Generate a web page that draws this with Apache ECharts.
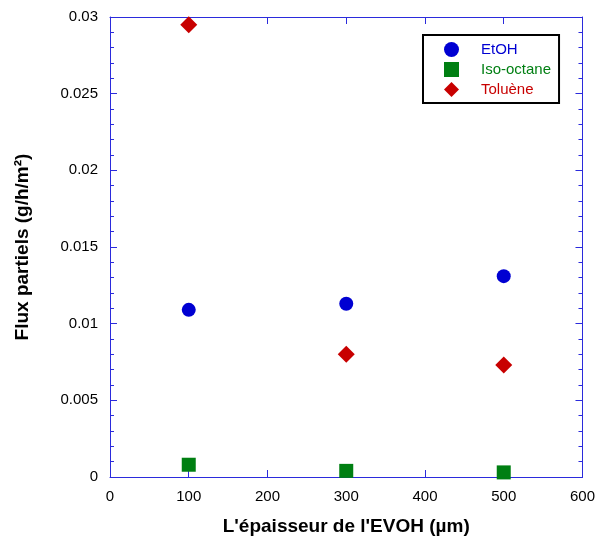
<!DOCTYPE html>
<html><head><meta charset="utf-8">
<script src="https://cdn.jsdelivr.net/npm/echarts@6/dist/echarts.min.js"></script>
<style>html,body{margin:0;padding:0;background:#fff}#c{width:598px;height:542px}</style>
</head><body><div id="c"></div>
<script>
var thickness = [100, 300, 500];
var etoh = [0.0109, 0.0113, 0.0131];
var isoOctane = [0.0008, 0.0004, 0.0003];
var toluene = [0.0295, 0.0080, 0.0073];
var seriesNames = ['EtOH', 'Iso-octane', 'Toluène'];
var xTitle = "L'épaisseur de l'EVOH (µm)";
var yTitle = 'Flux partiels (g/h/m²)';

function pairs(ys){ return thickness.map(function(x,i){ return [x, ys[i]]; }); }
var axisColor = '#2b2bdc';
var font = 'Liberation Sans, Arial, sans-serif';
var cBlue = '#0000d2', cGreen = '#007f12', cRed = '#c80000';
var chart = echarts.init(document.getElementById('c'));
function axisBase(){
  return {
    axisLine:{show:true, onZero:false, lineStyle:{color:axisColor, width:1}},
    axisTick:{show:true, inside:true, length:7, lineStyle:{color:axisColor}},
    minorTick:{show:true, splitNumber:5, length:4, lineStyle:{color:axisColor}},
    splitLine:{show:false}
  };
}
var xb = axisBase(), xt = axisBase(), yl = axisBase(), yr = axisBase();
xb.minorTick.show = false; xt.minorTick.show = false;
chart.setOption({
  animation:false,
  grid:{left:110, right:15, top:17, bottom:65},
  legend:{
    orient:'vertical', left:423, top:35,
    padding:[6,8,5,21], itemGap:3, itemWidth:15, itemHeight:15,
    borderColor:'#000', borderWidth:2,
    textStyle:{fontFamily:font, fontSize:15, lineHeight:17, padding:[0,0,0,17]},
    data:[
      {name:seriesNames[0], icon:'circle', textStyle:{color:cBlue}},
      {name:seriesNames[1], icon:'rect', textStyle:{color:cGreen}},
      {name:seriesNames[2], icon:'diamond', textStyle:{color:cRed}}
    ]
  },
  xAxis:[
    Object.assign(xb, {type:'value', min:0, max:600, interval:100, position:'bottom',
      name:xTitle, nameLocation:'middle', nameGap:40,
      nameTextStyle:{fontFamily:font, fontSize:19, fontWeight:'bold', color:'#000'},
      axisLabel:{fontFamily:font, fontSize:15, color:'#000', margin:12}}),
    Object.assign(xt, {type:'value', min:0, max:600, interval:100, position:'top', axisLabel:{show:false}})
  ],
  yAxis:[
    Object.assign(yl, {type:'value', min:0, max:0.03, interval:0.005, position:'left',
      name:yTitle, nameLocation:'middle', nameGap:78,
      nameTextStyle:{fontFamily:font, fontSize:19, fontWeight:'bold', color:'#000'},
      axisLabel:{fontFamily:font, fontSize:15, color:'#000', margin:12,
        formatter:function(v){ return String(+v.toFixed(4)); }}}),
    Object.assign(yr, {type:'value', min:0, max:0.03, interval:0.005, position:'right', axisLabel:{show:false}})
  ],
  series:[
    {name:seriesNames[0], type:'scatter', symbol:'circle', symbolSize:14, itemStyle:{color:cBlue, opacity:1}, data:pairs(etoh)},
    {name:seriesNames[1], type:'scatter', symbol:'rect', symbolSize:14, itemStyle:{color:cGreen, opacity:1}, data:pairs(isoOctane)},
    {name:seriesNames[2], type:'scatter', symbol:'diamond', symbolSize:[17,17], itemStyle:{color:cRed, opacity:1}, data:pairs(toluene)}
  ]
});
</script></body></html>
